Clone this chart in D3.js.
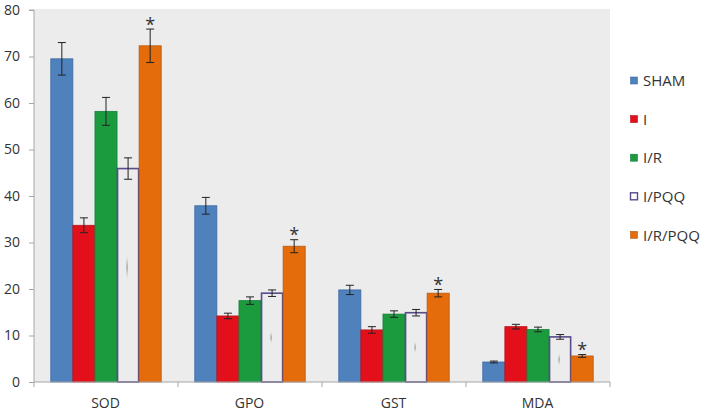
<!DOCTYPE html>
<html><head><meta charset="utf-8">
<script src="https://cdn.jsdelivr.net/npm/d3@7"></script>
<style>
body{margin:0;background:#fff;}
text{font-family:"Open Sans",sans-serif;fill:#333;}
</style></head>
<body><svg id="c" width="705" height="412"></svg>
<script>
const categories = ["SOD","GPO","GST","MDA"];
const groups = ["SHAM","I","I/R","I/PQQ","I/R/PQQ"];
const SHAM = [69.5, 37.9, 19.8, 4.3];
const I = [33.7, 14.2, 11.2, 11.9];
const IR = [58.2, 17.5, 14.6, 11.3];
const IPQQ = [45.9, 19.1, 14.9, 9.7];
const IRPQQ = [72.3, 29.2, 19.1, 5.6];
const SHAM_err = [3.5, 1.8, 1.0, 0.2];
const I_err = [1.6, 0.6, 0.7, 0.5];
const IR_err = [3.0, 0.8, 0.7, 0.5];
const IPQQ_err = [2.3, 0.7, 0.7, 0.5];
const IRPQQ_err = [3.6, 1.4, 0.8, 0.3];
const yTicks = [0,10,20,30,40,50,60,70,80];
const starred = "I/R/PQQ";

const values = [SHAM, I, IR, IPQQ, IRPQQ];
const errs = [SHAM_err, I_err, IR_err, IPQQ_err, IRPQQ_err];
const fills = ["#4f81bd","#e3101b","#1b9a3e","#ececec","#e46c0a"];
const strokes = ["#3d6ba3","#b5121a","#17823a","#5a4a8c","#b95a12"];

const svg = d3.select("#c");
const L = 34, R = 610, T = 9, B = 382;
const x0 = d3.scaleBand().domain(categories).range([L, R]).paddingInner(0).paddingOuter(0);
const x1 = d3.scaleBand().domain(groups).range([0, x0.bandwidth()]).paddingOuter(0.76).paddingInner(0);
const y = d3.scaleLinear().domain([0, 80]).range([B, 10]);

svg.append("rect").attr("x", L).attr("y", T).attr("width", R - L).attr("height", B - T).attr("fill", "#ececec");

const data = [];
categories.forEach((c, ci) => groups.forEach((g, gi) => data.push({c, g, gi, v: values[gi][ci], e: errs[gi][ci]})));

const bars = svg.append("g");
bars.selectAll("rect").data(data).join("rect")
  .attr("x", d => x0(d.c) + x1(d.g) + (d.gi === 3 ? 0.5 : 0))
  .attr("y", d => y(d.v))
  .attr("width", d => x1.bandwidth() - (d.gi === 3 ? 1 : 0))
  .attr("height", d => y(0) - y(d.v))
  .attr("fill", d => fills[d.gi])
  .attr("stroke", d => strokes[d.gi])
  .attr("stroke-width", d => d.gi === 3 ? 1.6 : 0.8);

// faint artifact mark inside open bars
const defs = svg.append("defs");
const rg = defs.append("radialGradient").attr("id", "smear");
rg.append("stop").attr("offset", "0%").attr("stop-color", "#777").attr("stop-opacity", 0.9);
rg.append("stop").attr("offset", "100%").attr("stop-color", "#ececec").attr("stop-opacity", 0);
bars.selectAll("ellipse").data(data.filter(d => d.gi === 3)).join("ellipse")
  .attr("cx", d => x0(d.c) + x1(d.g) + x1.bandwidth() / 2 - 1)
  .attr("cy", d => (y(d.v) + y(0)) / 2 - (d.c === "SOD" ? 8 : 0))
  .attr("rx", 1.6)
  .attr("ry", d => d.c === "SOD" ? 14 : 7)
  .attr("fill", "url(#smear)");

// error bars
const eg = svg.append("g").attr("stroke", "#222").attr("stroke-width", 1);
data.forEach(d => {
  const cx = x0(d.c) + x1(d.g) + x1.bandwidth() / 2;
  eg.append("line").attr("x1", cx).attr("x2", cx).attr("y1", y(d.v + d.e)).attr("y2", y(d.v - d.e));
  eg.append("line").attr("x1", cx - 4).attr("x2", cx + 4).attr("y1", y(d.v + d.e)).attr("y2", y(d.v + d.e));
  eg.append("line").attr("x1", cx - 4).attr("x2", cx + 4).attr("y1", y(d.v - d.e)).attr("y2", y(d.v - d.e));
});

// asterisks
svg.append("g").selectAll("text").data(data.filter(d => d.g === starred)).join("text")
  .attr("x", d => x0(d.c) + x1(d.g) + x1.bandwidth() / 2)
  .attr("y", d => y(d.v + d.e) + 1.5)
  .attr("text-anchor", "middle")
  .attr("font-size", 18)
  .style("fill", "#333")
  .text("*");

// y axis
const ya = svg.append("g").attr("transform", `translate(${L},0)`)
  .call(d3.axisLeft(y).tickValues(yTicks).tickSize(5).tickPadding(9));
ya.select(".domain").attr("stroke", "#a6a6a6").attr("d", `M-5,${y(80)}H0V${B}`);
ya.selectAll(".tick line").attr("stroke", "#a6a6a6");
ya.selectAll(".tick text").attr("font-size", 14).attr("font-family", "Open Sans").style("fill", "#333");

// x axis
const xa = svg.append("g").attr("transform", `translate(0,${B})`);
xa.append("line").attr("x1", L).attr("x2", R).attr("stroke", "#a6a6a6");
const bounds = categories.map(c => x0(c)).concat([R]);
xa.selectAll("line.tk").data(bounds).join("line").attr("class", "tk")
  .attr("x1", d => d).attr("x2", d => d).attr("y1", 0).attr("y2", 5).attr("stroke", "#a6a6a6");
xa.selectAll("text").data(categories).join("text")
  .attr("x", c => x0(c) + x0.bandwidth() / 2 - 0.5)
  .attr("y", 26)
  .attr("text-anchor", "middle")
  .attr("font-size", 14)
  .text(c => c);

// legend
const lg = svg.append("g").attr("transform", "translate(630,81)");
const li = lg.selectAll("g").data(groups).join("g").attr("transform", (d, i) => `translate(0,${i * 38.6})`);
li.append("rect").attr("x", 0.5).attr("y", -4).attr("width", 7).attr("height", 7)
  .attr("fill", (d, i) => i === 3 ? "#fff" : fills[i])
  .attr("stroke", (d, i) => strokes[i]).attr("stroke-width", (d, i) => i === 3 ? 1.4 : 0.6);
li.append("text").attr("x", 13).attr("y", 0).attr("dy", "0.35em").attr("font-size", 15).text(d => d);
</script></body></html>
